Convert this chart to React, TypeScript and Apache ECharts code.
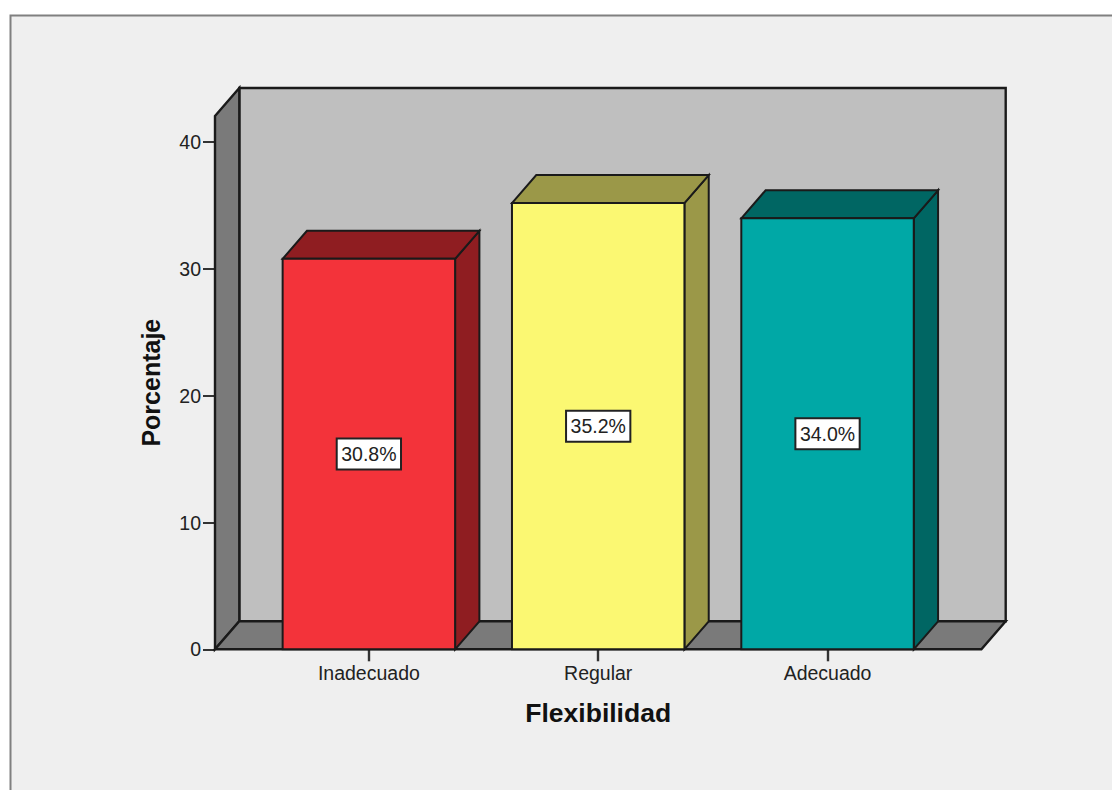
import React, { useEffect, useRef } from "react";
import * as echarts from "echarts";

const categories = ["Inadecuado", "Regular", "Adecuado"];
const percentages = [30.8, 35.2, 34.0];
const frontColors = ["#F3333A", "#FBF872", "#00A8A6"];
const shadeColors = ["#8F1D21", "#9B9848", "#006663"];
const yTicks = [0, 10, 20, 30, 40];

const FONT = "'Liberation Sans', Arial, sans-serif";
const INK = "#1a1a1a";
const DEPTH_X = 24.3;
const DEPTH_Y = 28;
const WALL_LEFT_INSET = 39.2;
const BAR_RATIO = 0.752;

// Back wall, side wall and floor of the 3D box, placed around the plot rectangle.
function renderBox(params: any) {
  const c = params.coordSys;
  const l = c.x - WALL_LEFT_INSET;
  const r = c.x + c.width + WALL_LEFT_INSET;
  const t = c.y;
  const b = c.y + c.height;
  const line = { stroke: INK, lineWidth: 2.4, lineJoin: "miter" };
  const poly = (points: number[][], fill: string) => ({
    type: "polygon",
    shape: { points },
    style: { fill, ...line },
  });
  return {
    type: "group",
    children: [
      poly(
        [
          [l + DEPTH_X, t - DEPTH_Y],
          [r + DEPTH_X, t - DEPTH_Y],
          [r + DEPTH_X, b - DEPTH_Y],
          [l + DEPTH_X, b - DEPTH_Y],
        ],
        "#BFBFBF"
      ),
      poly(
        [
          [l, t],
          [l + DEPTH_X, t - DEPTH_Y],
          [l + DEPTH_X, b - DEPTH_Y],
          [l, b],
        ],
        "#7A7A7A"
      ),
      poly(
        [
          [l, b],
          [l + DEPTH_X, b - DEPTH_Y],
          [r + DEPTH_X, b - DEPTH_Y],
          [r, b],
        ],
        "#7A7A7A"
      ),
    ],
  };
}

// One extruded bar: front face, top face, right face and its value tag.
function renderBar(params: any, api: any) {
  const i = api.value(0);
  const v = api.value(1);
  const [cx, y0] = api.coord([i, 0]);
  const [, y1] = api.coord([i, v]);
  const w = api.size([1, 0])[0] * BAR_RATIO;
  const x0 = cx - w / 2;
  const x1 = cx + w / 2;
  const line = { stroke: INK, lineWidth: 2, lineJoin: "miter" };
  return {
    type: "group",
    children: [
      {
        type: "polygon",
        shape: {
          points: [
            [x1, y1],
            [x1 + DEPTH_X, y1 - DEPTH_Y],
            [x1 + DEPTH_X, y0 - DEPTH_Y],
            [x1, y0],
          ],
        },
        style: { fill: shadeColors[i], ...line },
      },
      {
        type: "polygon",
        shape: {
          points: [
            [x0, y1],
            [x0 + DEPTH_X, y1 - DEPTH_Y],
            [x1 + DEPTH_X, y1 - DEPTH_Y],
            [x1, y1],
          ],
        },
        style: { fill: shadeColors[i], ...line },
      },
      {
        type: "rect",
        shape: { x: x0, y: y1, width: w, height: y0 - y1 },
        style: { fill: frontColors[i], ...line },
      },
      {
        type: "text",
        x: cx,
        y: (y0 + y1) / 2,
        style: {
          text: `${v.toFixed(1)}%`,
          font: `19.5px ${FONT}`,
          fill: "#222",
          align: "center",
          verticalAlign: "middle",
          backgroundColor: "#fff",
          borderColor: "#222",
          borderWidth: 2,
          padding: [5, 3.5, 4, 3.5],
        },
      },
    ],
  };
}

export default function App() {
  const ref = useRef<HTMLDivElement>(null);

  useEffect(() => {
    const chart = echarts.init(ref.current!, null, { renderer: "svg" });
    chart.setOption({
      animation: false,
      backgroundColor: "#ffffff",
      graphic: [
        {
          type: "rect",
          z: -10,
          shape: { x: 10.5, y: 15.5, width: 1200, height: 900 },
          style: { fill: "#EFEFEF", stroke: "#808080", lineWidth: 2 },
        },
      ],
      grid: { left: 254.2, top: 116, width: 688, height: 533.3 },
      xAxis: {
        type: "category",
        data: categories,
        name: "Flexibilidad",
        nameLocation: "middle",
        nameGap: 50,
        nameTextStyle: { fontFamily: FONT, fontWeight: "bold", fontSize: 26.5, color: "#111" },
        axisLine: { show: false },
        axisTick: { show: true, alignWithLabel: true, length: 12, lineStyle: { color: "#333", width: 2.4 } },
        axisLabel: { fontFamily: FONT, fontSize: 19.5, color: "#222", margin: 14 },
        splitLine: { show: false },
      },
      yAxis: {
        type: "value",
        min: 0,
        max: 42.07,
        interval: 10,
        offset: WALL_LEFT_INSET,
        name: "Porcentaje",
        nameLocation: "middle",
        nameGap: 52,
        nameTextStyle: { fontFamily: FONT, fontWeight: "bold", fontSize: 25, color: "#111" },
        axisLine: { show: false },
        axisTick: { show: true, length: 12, customValues: yTicks, lineStyle: { color: "#333", width: 2 } },
        axisLabel: { fontFamily: FONT, fontSize: 19.5, color: "#222", margin: 14, customValues: yTicks },
        splitLine: { show: false },
      },
      series: [
        {
          type: "custom",
          name: "Caja",
          z: 1,
          silent: true,
          data: [[0, 0]],
          encode: { x: 0, y: 1 },
          renderItem: renderBox,
        },
        {
          type: "custom",
          name: "Porcentaje",
          z: 3,
          data: percentages.map((v, i) => [i, v]),
          encode: { x: 0, y: 1 },
          renderItem: renderBar,
        },
      ],
    });
    return () => chart.dispose();
  }, []);

  return <div ref={ref} style={{ position: "absolute", left: 0, top: 0, width: 1112, height: 790 }} />;
}
